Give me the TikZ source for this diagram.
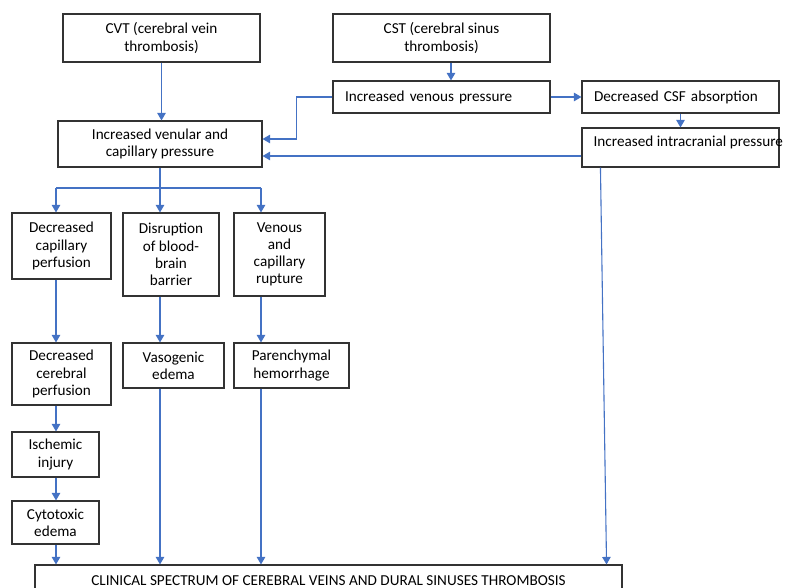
\documentclass[tikz,border=0pt]{standalone}
\usepackage{fontspec}
\setmainfont{Carlito}
\usetikzlibrary{arrows.meta}
\definecolor{flowblue}{HTML}{4472C4}
\definecolor{boxgray}{HTML}{333333}

\begin{document}
\begin{tikzpicture}[x=1pt,y=-1pt,
    box/.style={draw=boxgray, line width=1.1pt, align=center, inner sep=2pt, font=\fontsize{15.2}{17.2}\selectfont},
    lbox/.style={box, align=left, inner xsep=12pt},
    arr/.style={draw=flowblue, line width=1.1pt, -{Triangle[width=8.5pt,length=7.5pt]}},
    link/.style={draw=flowblue, line width=1.1pt}]
  \useasboundingbox (0,0) rectangle (793,588);
  \node[box, minimum width=197, minimum height=48] (cvt) at (161.5,38) {CVT (cerebral vein\\thrombosis)};
  \node[box, minimum width=217, minimum height=48] (cst) at (441.5,38) {CST (cerebral sinus\\thrombosis)};
  \node[lbox, text width=193, minimum height=32] (vp) at (441.5,97) {Increased venous pressure};
  \node[lbox, text width=173, minimum height=32] (csf) at (680.5,97) {Decreased CSF absorption};
  \node[box, minimum width=197, minimum height=39] (icp) at (680.5,147.5) {};
  \node[anchor=base west, inner sep=0pt, font=\fontsize{15.2}{17.2}\selectfont] (icptext) at ([xshift=12pt,yshift=-19pt]icp.north west) {Increased intracranial pressure};
  \node[box, minimum width=204, minimum height=46] (ven) at (160,144) {Increased venular and\\capillary pressure};
  \node[box, minimum width=99, minimum height=66] (dcp) at (61.5,246) {Decreased\\capillary\\perfusion};
  \node[box, minimum width=96, minimum height=83] (dbb) at (171,254.5) {Disruption\\of blood-\\brain\\barrier};
  \node[box, minimum width=91, minimum height=83] (vcr) at (279.5,254.5) {Venous\\and\\capillary\\rupture};
  \node[box, minimum width=99, minimum height=62] (dcer) at (61.5,374) {Decreased\\cerebral\\perfusion};
  \node[box, minimum width=101, minimum height=45] (vaso) at (173.5,365.5) {Vasogenic\\edema};
  \node[box, minimum width=115, minimum height=45] (paren) at (291.5,365.5) {Parenchymal\\hemorrhage};
  \node[box, minimum width=87, minimum height=45] (isch) at (55.5,454.5) {Ischemic\\injury};
  \node[box, minimum width=87, minimum height=43] (cyto) at (55.5,522.5) {Cytotoxic\\edema};
  \node[box, minimum width=587, minimum height=32] (clin) at (328.5,581) {CLINICAL SPECTRUM OF CEREBRAL VEINS AND DURAL SINUSES THROMBOSIS};

  \coordinate (split) at (160,188);
  \coordinate (splitL) at (56,188);
  \coordinate (splitR) at (261,188);

  \draw[arr] (cvt.south) -- (cvt.south |- ven.north);
  \draw[arr] ([xshift=9.5pt]cst.south) -- ([xshift=9.5pt]vp.north);
  \draw[arr] (vp.west) -- ++(-36,0) |- ([yshift=5pt]ven.east);
  \draw[arr] (vp) -- (csf);
  \draw[arr] (csf.south) -- (csf.south |- icp.north);
  \draw[arr] ([yshift=-8.5pt]icp.west) -- ([yshift=-8.5pt]icp.west -| ven.east);
  \draw[link] (splitL) -- (splitR);
  \draw[arr] (ven.south) -- (ven.south |- dbb.north);
  \draw[arr] (splitL) -- (splitL |- dcp.north);
  \draw[arr] (splitR) -- (splitR |- vcr.north);
  \draw[arr] (splitL |- dcp.south) -- (splitL |- dcer.north);
  \draw[arr] (split |- dbb.south) -- (split |- vaso.north);
  \draw[arr] (splitR |- vcr.south) -- (splitR |- paren.north);
  \draw[arr] (splitL |- dcer.south) -- (splitL |- isch.north);
  \draw[arr] (splitL |- isch.south) -- (splitL |- cyto.north);
  \draw[arr] (splitL |- cyto.south) -- (splitL |- clin.north);
  \draw[arr] (split |- vaso.south) -- (split |- clin.north);
  \draw[arr] (splitR |- paren.south) -- (splitR |- clin.north);
  \draw[arr] ([xshift=19pt]icp.south west) -- ([xshift=-16pt]clin.north east);
\end{tikzpicture}
\end{document}
